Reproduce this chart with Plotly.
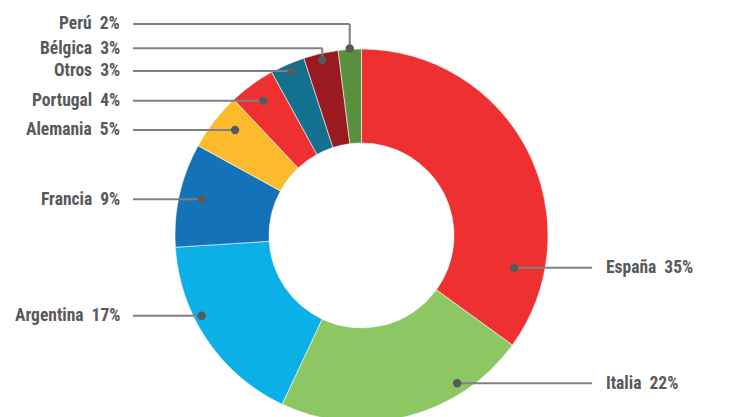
import math
import plotly.graph_objects as go

# ---- data ----
categories = ["España", "Italia", "Argentina", "Francia", "Alemania", "Portugal", "Otros", "Bélgica", "Perú"]
values = [35, 22, 17, 9, 5, 4, 3, 3, 2]
label_texts = [f"{c}\u00a0\u00a0{v}%" for c, v in zip(categories, values)]

# ---- style ----
colors = ["#EE3130", "#8CC763", "#0BB0E6", "#1472B9", "#FDBA2C", "#EE3130", "#14708F", "#9A1B1F", "#5A8F3E"]
W, H = 737, 422
CX, CY, R = 361.5, 235.5, 186.5
# label placement (layout): side, label y (px), dot radius fraction, mode
label_side = ["right", "right", "left", "left", "left", "left", "left", "left", "left"]
label_y = [267.7, 383.3, 315.7, 199.3, 130.0, 100.7, 71.0, 48.3, 24.0]
dot_rfrac = [0.836, 0.944, 0.959, 0.878, 0.883, 0.894, 0.958, 0.964, 1.005]
dot_mode = ["y", "y", "y", "y", "y", "y", "y", "mid", "mid"]
LEFT_TEXT_X, LEFT_LINE_X = 122, 133
RIGHT_TEXT_X, RIGHT_LINE_X = 604, 592
TEXT_COLOR = "#58595B"
LINE_COLOR = "#808080"
FONT = "Roboto Condensed, Open Sans Condensed, DejaVu Sans Condensed, sans-serif"

fig = go.Figure(go.Pie(
    labels=categories, values=values, sort=False, direction="clockwise", rotation=0,
    hole=0.496, textinfo="none", hoverinfo="label+percent",
    marker=dict(colors=colors, line=dict(color="rgba(255,255,255,0.7)", width=0.8)),
    domain=dict(x=[(CX - R) / W, (CX + R) / W], y=[0, 2 * R / H]),
    showlegend=False,
))

def px(x):
    return x / W

def py(y):
    return 1 - y / H

total = sum(values)
cum = 0
shapes, annotations = [], []
for i, v in enumerate(values):
    mid = (cum + v / 2) / total * 2 * math.pi
    cum += v
    r = dot_rfrac[i] * R
    ly = label_y[i]
    sgn = 1 if label_side[i] == "right" else -1
    if dot_mode[i] == "mid":
        dx, dy = CX + r * math.sin(mid), CY - r * math.cos(mid)
    else:
        dy = ly
        dx = CX + sgn * math.sqrt(max(r * r - (ly - CY) ** 2, 0))
    lx = RIGHT_LINE_X if sgn > 0 else LEFT_LINE_X
    shapes.append(dict(type="line", xref="paper", yref="paper", x0=px(lx), y0=py(ly), x1=px(dx), y1=py(ly),
                       line=dict(color=LINE_COLOR, width=2), layer="above"))
    if abs(dy - ly) > 0.5:
        shapes.append(dict(type="line", xref="paper", yref="paper", x0=px(dx), y0=py(ly), x1=px(dx), y1=py(dy),
                           line=dict(color=LINE_COLOR, width=2), layer="above"))
    rd = 4.2
    shapes.append(dict(type="circle", xref="paper", yref="paper", x0=px(dx - rd), x1=px(dx + rd),
                       y0=py(dy + rd), y1=py(dy - rd), fillcolor="#58595B", line=dict(width=0), layer="above"))
    annotations.append(dict(
        text=f"<b>{label_texts[i]}</b>", xref="paper", yref="paper",
        x=px(RIGHT_TEXT_X if sgn > 0 else LEFT_TEXT_X), y=py(ly - 0.5),
        xanchor="left" if sgn > 0 else "right", yanchor="middle", showarrow=False,
        font=dict(family=FONT, size=17.5, color=TEXT_COLOR)))

fig.update_layout(width=W, height=H, margin=dict(l=0, r=0, t=0, b=0),
                  paper_bgcolor="white", plot_bgcolor="white",
                  shapes=shapes, annotations=annotations)

fig.write_html("out.html", config={"displayModeBar": False},
               post_script="document.body.style.margin='0';document.body.style.overflow='hidden';document.documentElement.style.overflow='hidden';")
